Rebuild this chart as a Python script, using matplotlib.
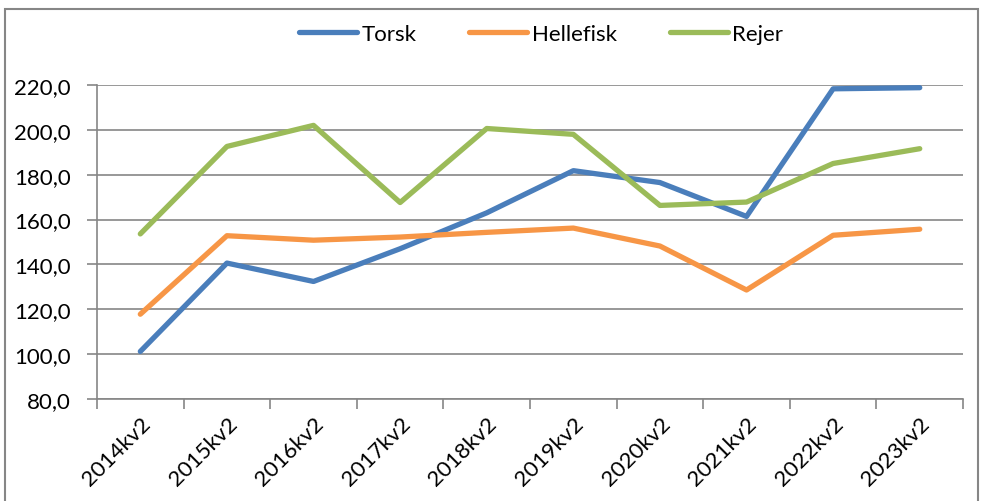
import matplotlib.pyplot as plt
from matplotlib.patches import Rectangle
import numpy as np

plt.rcParams['font.family'] = ['Lato', 'DejaVu Sans']

# Data aflezen uit de grafiek
kvartaler = ['2014kv2', '2015kv2', '2016kv2', '2017kv2', '2018kv2',
             '2019kv2', '2020kv2', '2021kv2', '2022kv2', '2023kv2']
torsk = [101.2, 140.6, 132.4, 147.0, 163.0, 181.8, 176.5, 161.4, 218.3, 218.8]
hellefisk = [117.8, 152.8, 150.8, 152.2, 154.3, 156.2, 148.2, 128.6, 153.0, 155.7]
rejer = [153.6, 192.6, 202.0, 167.6, 200.6, 198.0, 166.3, 167.8, 185.0, 191.6]

fig = plt.figure(figsize=(9.82, 5.02), dpi=100)
ax = fig.add_axes([0.0988, 0.2032, 0.8819, 0.6255])

x = np.arange(len(kvartaler))
ax.plot(x, torsk, color='#4A7EBB', linewidth=3.8, solid_capstyle='round', label='Torsk')
ax.plot(x, hellefisk, color='#F79646', linewidth=3.8, solid_capstyle='round', label='Hellefisk')
ax.plot(x, rejer, color='#9BBB59', linewidth=3.8, solid_capstyle='round', label='Rejer')

ax.set_xlim(-0.5, len(kvartaler) - 0.5)
ax.set_ylim(80, 220)
ax.set_yticks(np.arange(80, 221, 20))
ax.set_yticklabels([f'{v:.1f}'.replace('.', ',') for v in np.arange(80, 221, 20)], fontsize=16)
ax.yaxis.grid(True, color='#868686', linewidth=1.2)
ax.set_axisbelow(True)

ax.set_xticks(x)
ax.set_xticklabels(kvartaler, fontsize=16, rotation=45, ha='right', rotation_mode='anchor')
ax.set_xticks(np.arange(-0.5, len(kvartaler)), minor=True)
ax.tick_params(axis='x', which='major', length=0, pad=10)
ax.tick_params(axis='x', which='minor', length=7, color='#868686', width=1.2)
ax.tick_params(axis='y', length=7, color='#868686', width=1.2, pad=12)

for s in ['top', 'right']:
    ax.spines[s].set_visible(False)
for s in ['left', 'bottom']:
    ax.spines[s].set_color('#868686')
    ax.spines[s].set_linewidth(1.2)

fig.legend(loc='center', bbox_to_anchor=(0.551, 0.93), ncol=3, frameon=False,
           fontsize=16, handlelength=2.6, handletextpad=0.2, columnspacing=2.4)

# Ramme rundt om figuren
fig.patches.append(Rectangle((5 / 982, -0.02), 973 / 982, 1.0 - 10 / 502 + 0.02,
                             transform=fig.transFigure, fill=False,
                             edgecolor='#868686', linewidth=1.5))

fig.savefig('out.png', dpi=100)
